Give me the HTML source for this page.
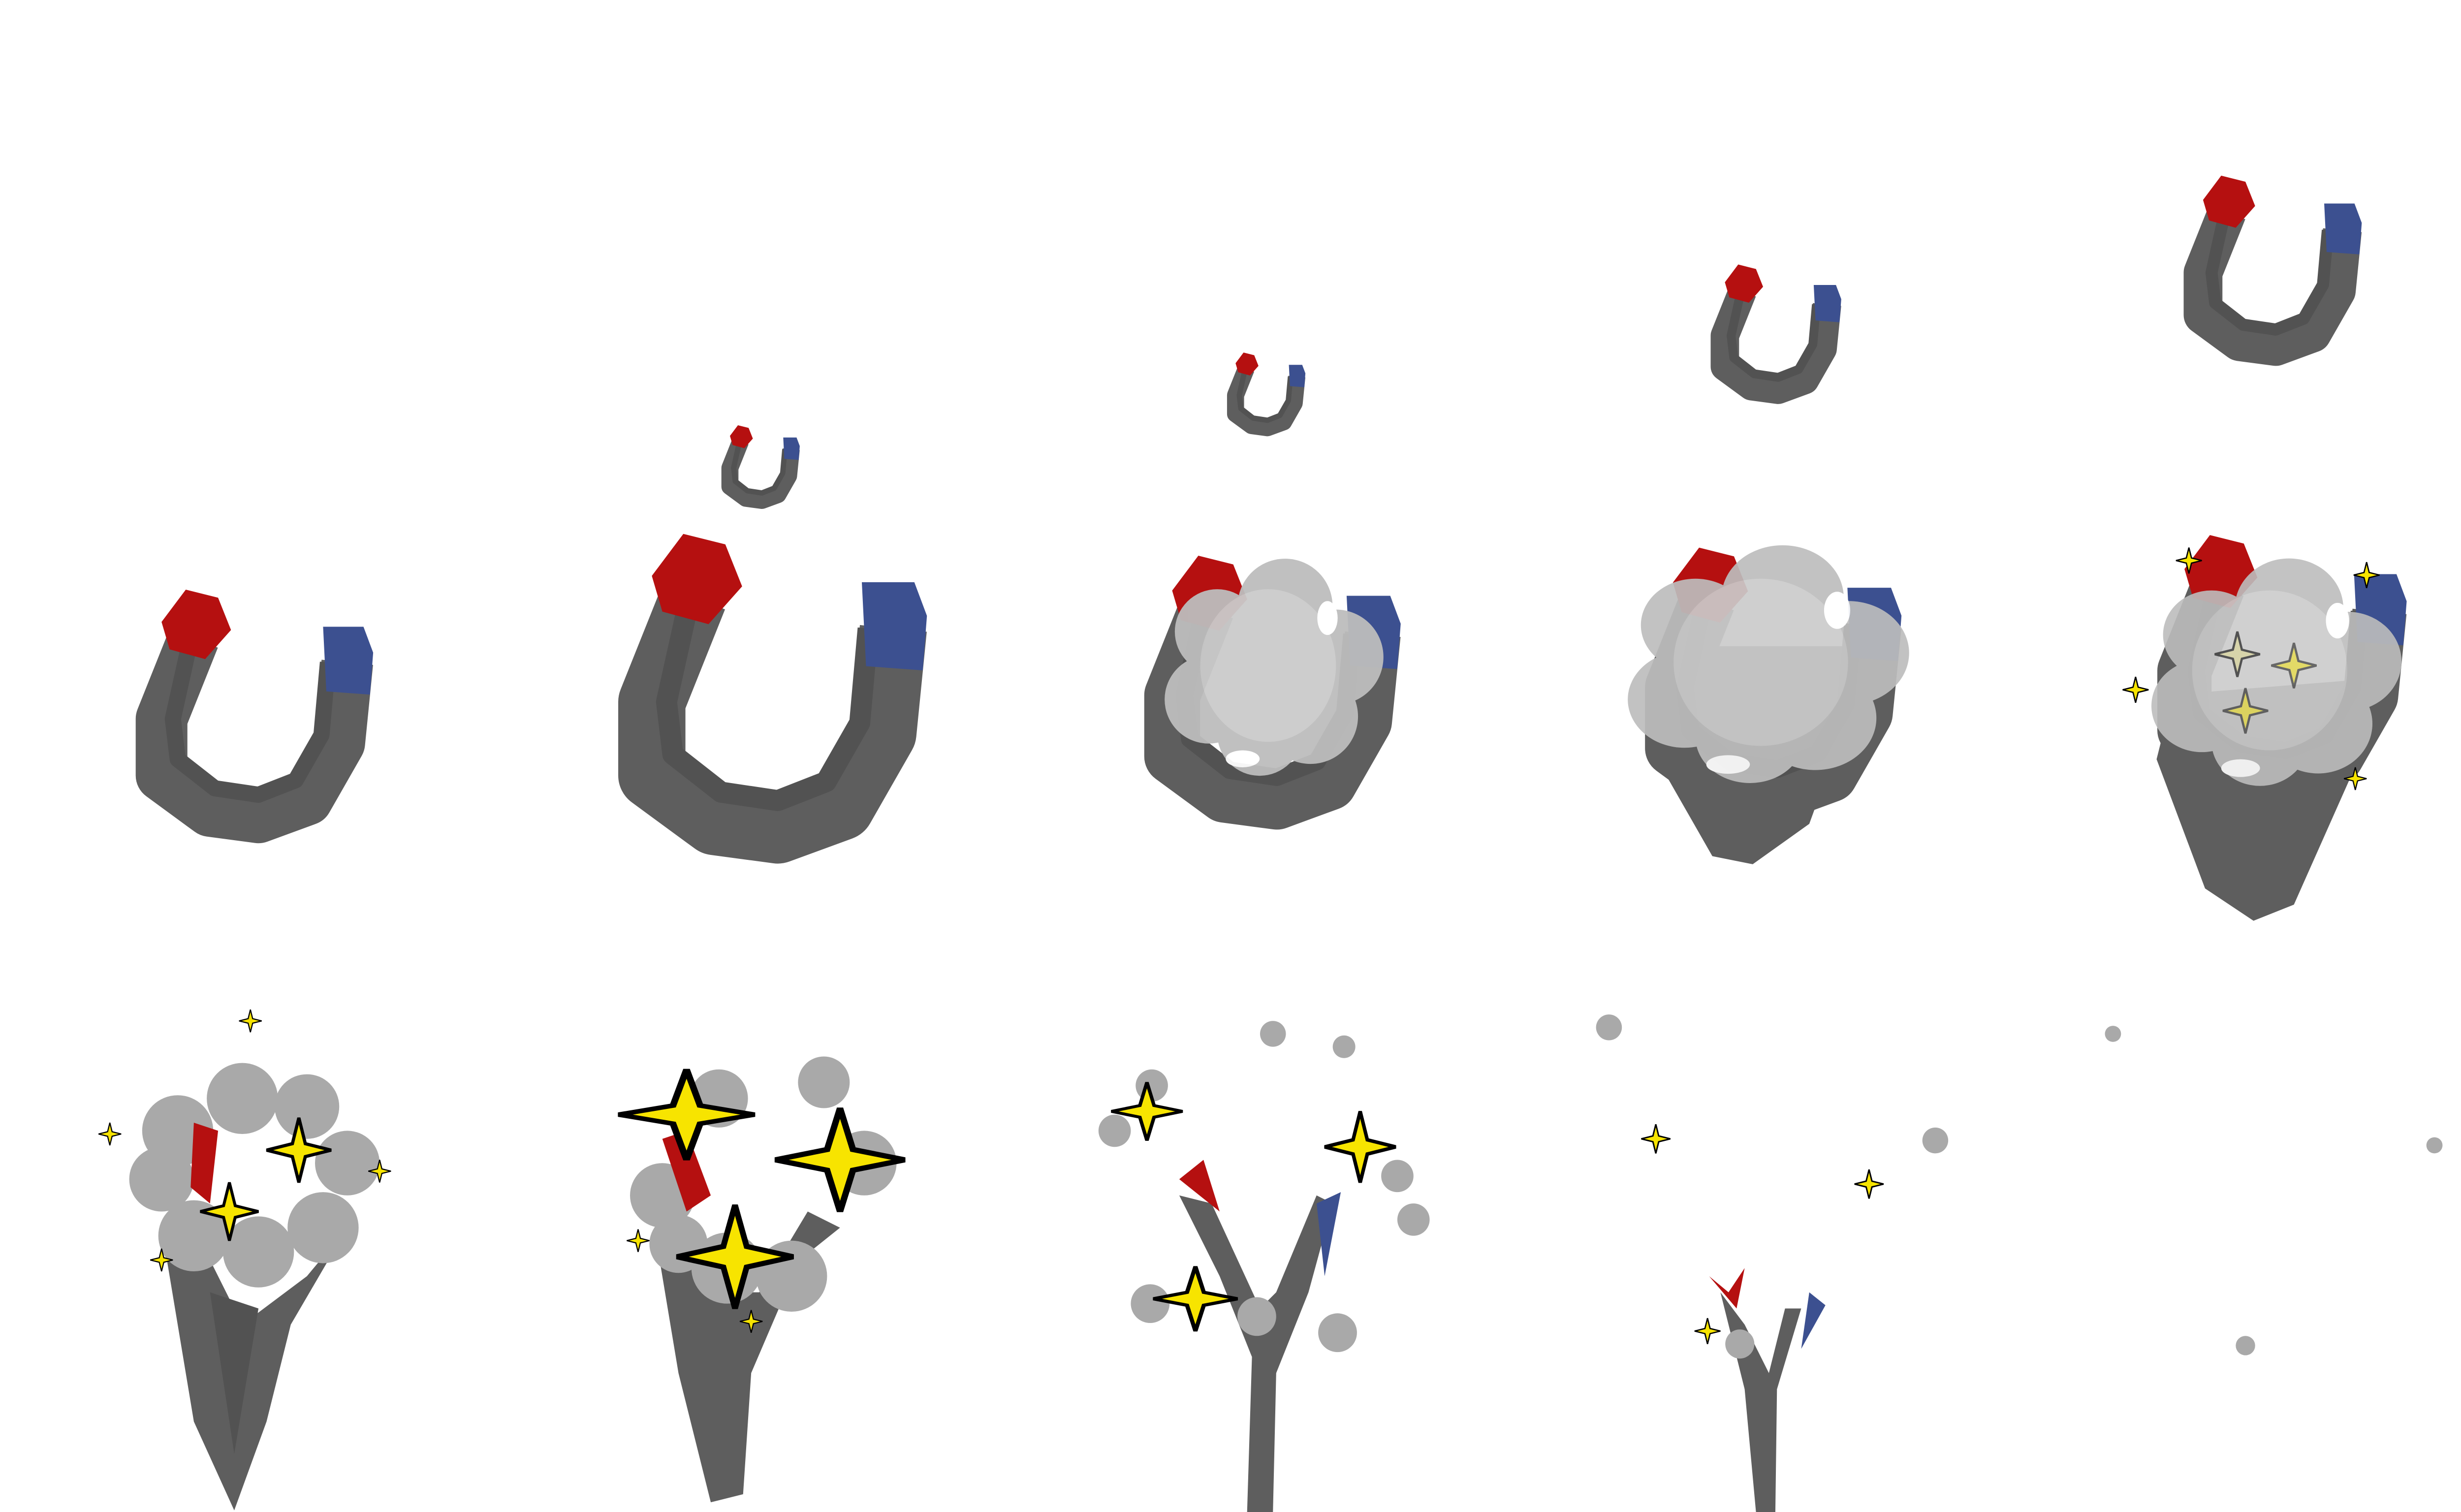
<!DOCTYPE html>
<html><head><meta charset="utf-8"><title>Magnet sequence</title>
<style>html,body{margin:0;padding:0;background:#fff}svg{display:block}</style></head>
<body>
<svg width="5120" height="3072" viewBox="0 0 1560 936" xmlns="http://www.w3.org/2000/svg">
<defs>
 <g id="mag">
  <path d="M-35,-45 L-55,5 L-55,40 L-25,62 L5,66 L35,55 L55,20 L60,-30" fill="none" stroke="#5e5e5e" stroke-width="32" stroke-linejoin="round"/>
  <path d="M-38,-40 L-48,5 L-45,30 L-22,48 L5,52 L28,43 L44,15 L48,-30" fill="none" stroke="#525252" stroke-width="10" stroke-linejoin="round"/>
  <polygon points="-55,-55 -40,-75 -20,-70 -12,-50 -28,-32 -50,-38" fill="#b51010"/>
  <polygon points="45,-52 70,-52 76,-36 74,-10 47,-12" fill="#3c5090"/>
 </g>
 <path id="spark" d="M0,-20 L4,-4 L20,0 L4,4 L0,20 L-4,4 L-20,0 L-4,-4 Z" fill="#f7e400" stroke="#000" stroke-width="2"/>
 <g id="cloud">
  <circle cx="-30" cy="-20" r="25" fill="#bdbdbd"/><circle cx="10" cy="-35" r="28" fill="#bdbdbd"/>
  <circle cx="40" cy="-5" r="28" fill="#bdbdbd"/><circle cx="-35" cy="20" r="26" fill="#bdbdbd"/>
  <circle cx="25" cy="30" r="28" fill="#bdbdbd"/><circle cx="-5" cy="40" r="25" fill="#bdbdbd"/>
  <ellipse cx="0" cy="0" rx="40" ry="45" fill="#cbcbcb"/>
  <ellipse cx="35" cy="-28" rx="6" ry="10" fill="#fff"/><ellipse cx="-15" cy="55" rx="10" ry="5" fill="#fff"/>
 </g>
</defs>
<!-- row 1 -->
<g><use href="#mag" transform="translate(155,440)"/></g>
<g><use href="#mag" transform="translate(475,428) scale(1.3)"/></g>
<g><use href="#mag" transform="translate(470,288) scale(0.33)"/></g>
<g><use href="#mag" transform="translate(785,425) scale(1.08)"/>
 <use href="#cloud" transform="translate(785,412) scale(1.05)" opacity="0.95"/></g>
<g><use href="#mag" transform="translate(783,243) scale(0.33)"/></g>
<g>
 <path d="M1030,400 L1020,460 L1060,530 L1085,535 L1120,510 L1160,400 Z" fill="#5e5e5e"/>
 <use href="#mag" transform="translate(1095,420) scale(1.08)"/>
 <use href="#cloud" transform="translate(1090,410) scale(1.35,1.15)" opacity="0.92"/></g>
<g><use href="#mag" transform="translate(1098,205) scale(0.55)"/></g>
<g>
 <path d="M1345,430 L1335,470 L1365,550 L1395,570 L1420,560 L1460,470 L1470,420 Z" fill="#5e5e5e"/>
 <use href="#mag" transform="translate(1410,410) scale(1.05)"/>
 <use href="#cloud" transform="translate(1405,415) scale(1.2,1.1)" opacity="0.9"/>
 <use href="#spark" transform="translate(1385,405) scale(0.7)" fill-opacity="0.3" opacity="0.6"/>
 <use href="#spark" transform="translate(1420,412) scale(0.7)" opacity="0.5"/>
 <use href="#spark" transform="translate(1390,440) scale(0.7)" opacity="0.5"/>
 <use href="#spark" transform="translate(1355,347) scale(0.4)"/><use href="#spark" transform="translate(1465,356) scale(0.4)"/>
 <use href="#spark" transform="translate(1322,427) scale(0.4)"/><use href="#spark" transform="translate(1458,482) scale(0.35)"/></g>
<g><use href="#mag" transform="translate(1405,165) scale(0.75)"/></g>
<!-- row 2 -->
<g>
 <path d="M100,760 L120,880 L145,935 L165,880 L180,820 L215,760 L190,790 L150,820 L130,780 Z" fill="#5e5e5e"/>
 <path d="M130,800 L145,900 L160,810 Z" fill="#525252"/>
 <g fill="#a9a9a9"><circle cx="110" cy="700" r="22"/><circle cx="150" cy="680" r="22"/><circle cx="190" cy="685" r="20"/><circle cx="215" cy="720" r="20"/><circle cx="200" cy="760" r="22"/><circle cx="160" cy="775" r="22"/><circle cx="120" cy="765" r="22"/><circle cx="100" cy="730" r="20"/></g>
 <path d="M120,695 L135,700 L130,745 L118,735 Z" fill="#b51010"/>
 <use href="#spark" transform="translate(185,712) scale(1)"/><use href="#spark" transform="translate(142,750) scale(0.9)"/>
 <use href="#spark" transform="translate(155,632) scale(0.35)"/><use href="#spark" transform="translate(68,702) scale(0.35)"/>
 <use href="#spark" transform="translate(235,725) scale(0.35)"/><use href="#spark" transform="translate(100,780) scale(0.35)"/></g>
<g>
 <path d="M405,760 L420,850 L440,930 L460,925 L465,850 L495,780 L520,760 L500,750 L470,800 L450,800 L430,760 Z" fill="#5e5e5e"/>
 <g fill="#a9a9a9"><circle cx="410" cy="740" r="20"/><circle cx="445" cy="680" r="18"/><circle cx="510" cy="670" r="16"/><circle cx="535" cy="720" r="20"/><circle cx="490" cy="790" r="22"/><circle cx="450" cy="785" r="22"/><circle cx="420" cy="770" r="18"/></g>
 <path d="M410,705 L425,700 L440,740 L425,750 Z" fill="#b51010"/>
 <use href="#spark" transform="translate(425,690) scale(2.1,1.4)"/><use href="#spark" transform="translate(520,718) scale(2,1.6)"/>
 <use href="#spark" transform="translate(455,778) scale(1.8,1.6)"/><use href="#spark" transform="translate(395,768) scale(0.35)"/>
 <use href="#spark" transform="translate(465,818) scale(0.35)"/></g>
<g>
 <path d="M730,740 L755,790 L775,840 L772,936 L788,936 L790,850 L810,800 L825,745 L815,740 L790,800 L780,810 L750,745 Z" fill="#5e5e5e"/>
 <path d="M730,730 L745,718 L755,750 Z" fill="#b51010"/><path d="M815,745 L830,738 L820,790 Z" fill="#3c5090"/>
 <g fill="#a9a9a9"><circle cx="690" cy="700" r="10"/><circle cx="712" cy="807" r="12"/><circle cx="778" cy="815" r="12"/><circle cx="828" cy="825" r="12"/><circle cx="865" cy="728" r="10"/><circle cx="875" cy="755" r="10"/><circle cx="788" cy="640" r="8"/><circle cx="832" cy="648" r="7"/><circle cx="713" cy="672" r="10"/></g>
 <use href="#spark" transform="translate(710,688) scale(1.1,0.9)"/><use href="#spark" transform="translate(842,710) scale(1.1)"/>
 <use href="#spark" transform="translate(740,804) scale(1.3,1)"/></g>
<g>
 <path d="M1065,800 L1080,860 L1087,936 L1099,936 L1100,860 L1115,810 L1105,810 L1095,850 L1080,820 Z" fill="#5e5e5e"/>
 <path d="M1058,790 L1070,800 L1080,785 L1075,810 Z" fill="#b51010"/><path d="M1120,800 L1130,808 L1115,835 Z" fill="#3c5090"/>
 <circle cx="1077" cy="832" r="9" fill="#a9a9a9"/><circle cx="996" cy="636" r="8" fill="#a9a9a9"/><circle cx="1198" cy="706" r="8" fill="#a9a9a9"/>
 <use href="#spark" transform="translate(1025,705) scale(0.45)"/><use href="#spark" transform="translate(1157,733) scale(0.45)"/>
 <use href="#spark" transform="translate(1057,824) scale(0.4)"/></g>
<g fill="#a9a9a9">
 <circle cx="1308" cy="640" r="5"/><circle cx="1507" cy="709" r="5"/><circle cx="1390" cy="833" r="6"/></g>
</svg>
</body></html>
